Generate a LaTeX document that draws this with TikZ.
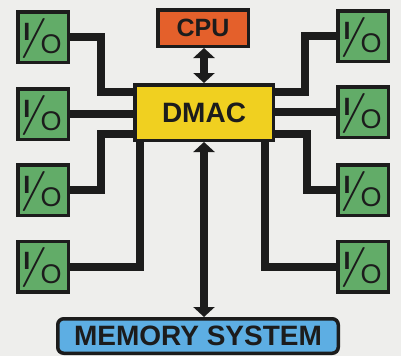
\documentclass[tikz,border=0pt]{standalone}
\usepackage{fontspec}
\setmainfont{Liberation Sans}
\newfontfamily\lmfont{Latin Modern Roman}
\usetikzlibrary{arrows.meta}
\definecolor{bg}{RGB}{238,238,236}
\definecolor{iogreen}{RGB}{98,172,104}
\definecolor{cpuorange}{RGB}{228,96,43}
\definecolor{dmacyellow}{RGB}{240,208,32}
\definecolor{memblue}{RGB}{93,174,227}
\definecolor{ink}{RGB}{28,28,28}
\newcommand\iolabel{\raisebox{0pt}[0pt][0pt]{\makebox[50pt][l]{%
  \rlap{\hspace{5.5pt}\raisebox{-3pt}{\fontsize{25}{25}\selectfont\bfseries I}}%
  \rlap{\hspace{2pt}\raisebox{-11pt}{\scalebox{1.5}[1]{\fontsize{40}{40}\selectfont\lmfont /}}}%
  \rlap{\hspace{22.5pt}\raisebox{-16.5pt}{\fontsize{27}{27}\selectfont O}}%
}}}
\tikzset{
  iobox/.style={draw=ink, line width=3.5pt, fill=iogreen, minimum width=50.5pt,
    minimum height=50.5pt, inner sep=0pt, text=ink},
  unitbox/.style={draw=ink, line width=3.5pt, inner sep=0pt, text=ink},
  bus/.style={draw=ink, line width=8pt, line join=miter},
  dataarrow/.style={draw=ink, line width=8pt,
    {Triangle[width=21pt,length=10pt]}-{Triangle[width=21pt,length=10pt]}}
}
\begin{document}
\begin{tikzpicture}[x=1pt,y=-1pt]
\fill[bg] (0,0) rectangle (401,356);
\useasboundingbox (0,0) rectangle (401,356);
% units
\node[unitbox, fill=cpuorange, minimum width=90.5pt, minimum height=36.5pt,
  font=\fontsize{25}{25}\selectfont\bfseries] (cpu) at (203,28) {CPU};
\node[unitbox, fill=dmacyellow, minimum width=138.5pt, minimum height=55.5pt,
  font=\fontsize{28}{28}\selectfont\bfseries] (dmac) at (204,112.5) {DMAC};
\node[unitbox, fill=memblue, rounded corners=6pt, minimum width=280.5pt, minimum height=34.5pt,
  font=\fontsize{28}{28}\selectfont\bfseries] (mem) at (198,336) {MEMORY SYSTEM};
% I/O boxes
\node[iobox] (l1) at (43,37) {\iolabel};
\node[iobox] (l2) at (43,114) {\iolabel};
\node[iobox] (l3) at (43,190) {\iolabel};
\node[iobox] (l4) at (43,266.5) {\iolabel};
\node[iobox] (r1) at (363,36) {\iolabel};
\node[iobox] (r2) at (363,112) {\iolabel};
\node[iobox] (r3) at (363,190) {\iolabel};
\node[iobox] (r4) at (363,266.5) {\iolabel};
% buses
\draw[bus] (l1.east) -- ++(31,0) |- ([yshift=20.5pt]dmac.west);
\draw[bus] (l2.east) -- (l2.east -| dmac.west);
\draw[bus] (l3.east) -- ++(31,0) |- ([yshift=-21.5pt]dmac.west);
\draw[bus] (l4.east) -| ([xshift=-64pt]dmac.south);
\draw[bus] (r1.west) -- ++(-31,0) |- ([yshift=20.5pt]dmac.east);
\draw[bus] (r2.west) -- (r2.west -| dmac.east);
\draw[bus] (r3.west) -- ++(-29,0) |- ([yshift=-21.5pt]dmac.east);
\draw[bus] (r4.west) -| ([xshift=61pt]dmac.south);
% data paths
\draw[dataarrow] (dmac.north |- cpu.south) -- (dmac.north);
\draw[dataarrow] (dmac.south) -- (dmac.south |- mem.north);
\end{tikzpicture}
\end{document}
